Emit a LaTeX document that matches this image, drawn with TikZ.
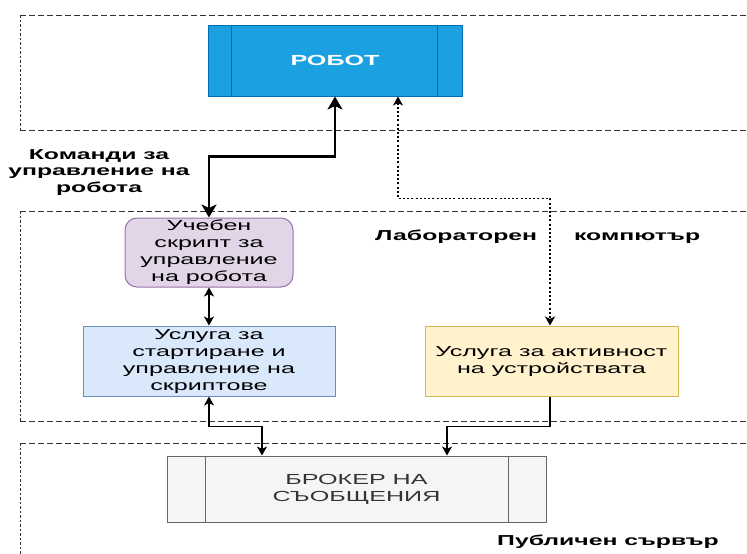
\documentclass[tikz,border=0pt]{standalone}
\usepackage{fontspec}
\setmainfont[FakeStretch=1.72]{Liberation Sans}
\usetikzlibrary{arrows.meta,calc}

\definecolor{robotfill}{HTML}{1BA1E2}
\definecolor{robotline}{HTML}{006EAF}
\definecolor{scriptfill}{HTML}{E1D5E7}
\definecolor{scriptline}{HTML}{9673A6}
\definecolor{svcfill}{HTML}{DAE8FC}
\definecolor{svcline}{HTML}{6C8EBF}
\definecolor{actfill}{HTML}{FFF2CC}
\definecolor{actline}{HTML}{D6B656}
\definecolor{brokerfill}{HTML}{F5F5F5}
\definecolor{brokerline}{HTML}{666666}
\definecolor{brokertext}{HTML}{333333}

\tikzset{
  bigtip/.tip={Stealth[length=13pt,width=15pt,inset=3.5pt]},
  thintip/.tip={Stealth[length=9pt,width=10pt,inset=2.5pt]},
  box/.style={draw, line width=1pt, inner sep=2pt, align=center,
    font=\fontsize{14.6}{17}\selectfont},
  zoneh/.style={draw=black!80, line width=0.9pt, dash pattern=on 6pt off 3pt},
  zonev/.style={draw=black!80, line width=0.9pt, dash pattern=on 2.5pt off 2pt},
  zonelabel/.style={font=\fontsize{14.4}{16.5}\selectfont\bfseries, align=center, inner sep=0pt},
  thickarrow/.style={line width=2.6pt, bigtip-bigtip},
  thinarrow/.style={line width=1.1pt},
  dottedarrow/.style={line width=1.3pt, dash pattern=on 2pt off 2.2pt},
}

\begin{document}
\begin{tikzpicture}[x=1pt,y=-1pt]
\useasboundingbox (0,0) rectangle (747,554);

% zone frames (right edges run off the page)
\draw[zoneh] (20,15) -- (760,15);
\draw[zoneh] (20,130) -- (760,130);
\draw[zonev] (20,15) -- (20,130);
\draw[zoneh] (20,211) -- (760,211);
\draw[zoneh] (20,421) -- (760,421);
\draw[zonev] (20,211) -- (20,421);
\draw[zoneh] (20,443) -- (760,443);
\draw[zonev] (20,443) -- (20,560);

% robot
\node[box, fill=robotfill, draw=robotline, text=white, minimum width=254pt, minimum height=71pt,
      font=\fontsize{14.6}{17}\selectfont\bfseries] (robot) at (335,60.5) {РОБОТ};
\draw[robotline, line width=1pt] ([xshift=24pt]robot.north west) -- ([xshift=24pt]robot.south west);
\draw[robotline, line width=1pt] ([xshift=-25pt]robot.north east) -- ([xshift=-25pt]robot.south east);

% lab computer
\node[box, fill=scriptfill, draw=scriptline, rounded corners=12pt, minimum width=168pt, minimum height=69pt]
  (script) at (209,252.5) {Учебен\\скрипт за\\управление\\на робота};
\node[box, fill=svcfill, draw=svcline, minimum width=252pt, minimum height=70pt]
  (svc) at (209,361) {Услуга за\\стартиране и\\управление на\\скриптове};
\node[box, fill=actfill, draw=actline, minimum width=253pt, minimum height=70pt]
  (act) at (551.5,361) {Услуга за активност\\на устройствата};

% public server
\node[box, fill=brokerfill, draw=brokerline, text=brokertext, minimum width=379pt, minimum height=66pt]
  (broker) at (356.5,489) {БРОКЕР НА\\СЪОБЩЕНИЯ};
\draw[brokerline, line width=1pt] ([xshift=39pt]broker.north west) -- ([xshift=39pt]broker.south west);
\draw[brokerline, line width=1pt] ([xshift=-38pt]broker.north east) -- ([xshift=-38pt]broker.south east);

% zone labels
\node[zonelabel, anchor=west] (lablbl) at (375,237) {Лабораторен\hspace{37pt}компютър};
\node[zonelabel, anchor=west] (publbl) at (497,542) {Публичен сървър};
\node[zonelabel] (cmdlbl) at (99,172.5) {Команди за\\управление на\\робота};

% connectors
\draw[thickarrow] (script.north) -- ($(script.north)+(0,-61)$) -| (robot.south);
\draw[dottedarrow, thintip-thintip]
  ([xshift=63pt]robot.south) -- ($([xshift=63pt]robot.south)+(0,102)$) -| ([xshift=-1.5pt]act.north);
\draw[thinarrow, thintip-thintip] (script.south) -- (svc.north);
\draw[thinarrow, thintip-thintip] (svc.south) -- ($(svc.south)+(0,30)$) -| ([xshift=-94.5pt]broker.north);
\draw[thinarrow, -thintip] ([xshift=-1.5pt]act.south) -- ($([xshift=-1.5pt]act.south)+(0,30)$) -| ([xshift=90.5pt]broker.north);
\end{tikzpicture}
\end{document}
